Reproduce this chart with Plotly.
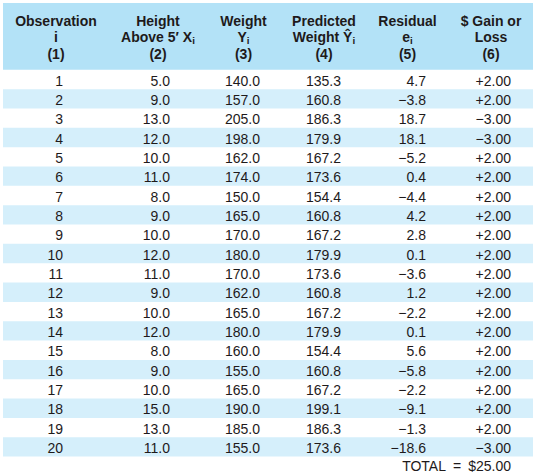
import plotly.graph_objects as go

# ---- data ----
observation = list(range(1, 21))
height_above_5ft = [5.0, 9.0, 13.0, 12.0, 10.0, 11.0, 8.0, 9.0, 10.0, 12.0,
                    11.0, 9.0, 10.0, 12.0, 8.0, 9.0, 10.0, 15.0, 13.0, 11.0]
weight = [140.0, 157.0, 205.0, 198.0, 162.0, 174.0, 150.0, 165.0, 170.0, 180.0,
          170.0, 162.0, 165.0, 180.0, 160.0, 155.0, 165.0, 190.0, 185.0, 155.0]
predicted_weight = [135.3, 160.8, 186.3, 179.9, 167.2, 173.6, 154.4, 160.8, 167.2, 179.9,
                    173.6, 160.8, 167.2, 179.9, 154.4, 160.8, 167.2, 199.1, 186.3, 173.6]
residual = [4.7, -3.8, 18.7, 18.1, -5.2, 0.4, -4.4, 4.2, 2.8, 0.1,
            -3.6, 1.2, -2.2, 0.1, 5.6, -5.8, -2.2, -9.1, -1.3, -18.6]
gain_loss = [2.00, 2.00, -3.00, -3.00, 2.00, 2.00, 2.00, 2.00, 2.00, 2.00,
             2.00, 2.00, 2.00, 2.00, 2.00, 2.00, 2.00, 2.00, 2.00, -3.00]

header_line1 = ["Observation", "Height", "Weight", "Predicted", "Residual", "$ Gain or"]
header_line2 = ["i", "Above 5\u2032 X<sub>i</sub>", "Y<sub>i</sub>", "Weight \u0176<sub>i</sub>",
                "e<sub>i</sub>", "Loss"]
header_line3 = ["(1)", "(2)", "(3)", "(4)", "(5)", "(6)"]

# ---- layout / style constants (pixel-like axis units) ----
W, H = 536, 476
TEXT = "#1E1A1B"
HEADER_BG = "#B3E2F7"
STRIPE_BG = "#D5EFFB"
FONT = "Liberation Sans, Arial, Helvetica, sans-serif"
TABLE_X0, TABLE_X1 = 3, 533
HEADER_Y0, HEADER_Y1 = 3, 69.8
ROW_TOP = 69.8
ROW_H = 19.34
TEXT_DY = 2.6
HEADER_CX = [56, 158, 243.5, 324, 407.5, 491]
HEADER_LINE_Y = [22, 38, 55.5]
COL_RIGHT = [63, 170, 260, 341, 426, 511]
TOTAL_Y = 467.5


def fmt1(v):
    s = f"{abs(v):.1f}"
    return ("\u2212" + s) if v < 0 else s


def fmt_gain(v):
    s = f"{abs(v):.2f}"
    return ("\u2212" if v < 0 else "+") + s


row_center = [ROW_TOP + ROW_H * (i + 0.5) for i in range(len(observation))]
text_y = [c + TEXT_DY for c in row_center]

fig = go.Figure()

shapes = [dict(type="rect", xref="x", yref="y", x0=TABLE_X0, x1=TABLE_X1,
               y0=HEADER_Y0, y1=HEADER_Y1, fillcolor=HEADER_BG, line_width=0, layer="below")]
for i, c in enumerate(row_center):
    if i % 2 == 1:
        shapes.append(dict(type="rect", xref="x", yref="y", x0=TABLE_X0, x1=TABLE_X1,
                           y0=c - ROW_H / 2, y1=c + ROW_H / 2,
                           fillcolor=STRIPE_BG, line_width=0, layer="below"))

# header text
for line, ly in zip([header_line1, header_line2, header_line3], HEADER_LINE_Y):
    fig.add_trace(go.Scatter(
        x=HEADER_CX, y=[ly] * len(line), mode="text", text=line,
        textposition="middle center",
        textfont=dict(family=FONT, size=14, color=TEXT, weight="bold"),
        hoverinfo="skip", showlegend=False))

# body columns
columns = [
    [str(v) for v in observation],
    [fmt1(v) for v in height_above_5ft],
    [fmt1(v) for v in weight],
    [fmt1(v) for v in predicted_weight],
    [fmt1(v) for v in residual],
    [fmt_gain(v) for v in gain_loss],
]
for xr, col in zip(COL_RIGHT, columns):
    fig.add_trace(go.Scatter(
        x=[xr] * len(col), y=text_y, mode="text", text=col,
        textposition="middle left",
        textfont=dict(family=FONT, size=14, color=TEXT),
        hoverinfo="skip", showlegend=False))

total = sum(gain_loss)
fig.add_trace(go.Scatter(
    x=[COL_RIGHT[-1]], y=[TOTAL_Y], mode="text",
    text=[f"TOTAL\u2002=\u2002${total:.2f}"], textposition="middle left",
    textfont=dict(family=FONT, size=14, color=TEXT),
    hoverinfo="skip", showlegend=False))

fig.update_layout(
    width=W, height=H, margin=dict(l=0, r=0, t=0, b=0),
    paper_bgcolor="white", plot_bgcolor="white",
    xaxis=dict(range=[0, W], visible=False, fixedrange=True),
    yaxis=dict(range=[H, 0], visible=False, fixedrange=True),
    shapes=shapes, showlegend=False,
)

fig.write_html(
    "out.html",
    config={"displayModeBar": False, "staticPlot": True},
    post_script="document.body.style.margin='0';document.body.style.overflow='hidden';",
)
